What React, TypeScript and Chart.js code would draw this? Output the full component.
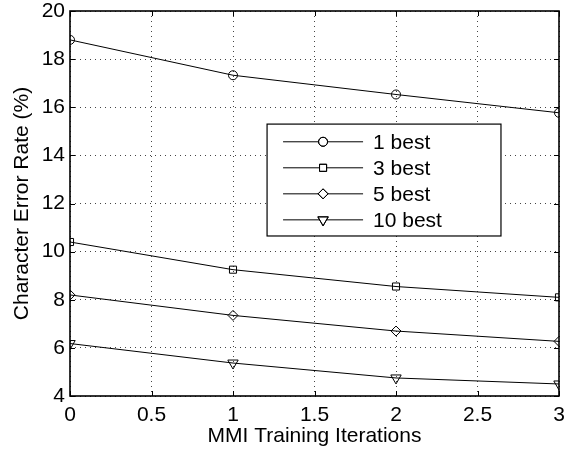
import React, { useEffect, useRef } from "react";
import { Chart, registerables } from "chart.js";
import { drawPoint } from "chart.js/helpers";

Chart.register(...registerables);

const iterations = [0, 1, 2, 3];
const seriesLabels = ["1 best", "3 best", "5 best", "10 best"];
const best1 = [18.8, 17.33, 16.53, 15.77];
const best3 = [10.4, 9.25, 8.55, 8.1];
const best5 = [8.2, 7.35, 6.7, 6.27];
const best10 = [6.18, 5.37, 4.75, 4.5];
const xTicks = [0, 0.5, 1, 1.5, 2, 2.5, 3];
const yTicks = [4, 6, 8, 10, 12, 14, 16, 18, 20];

const FONT = "'Liberation Sans', Arial, Helvetica, sans-serif";
const FS = 21;

const markerStyles = [
  { pointStyle: "circle", pointRadius: 4.5, pointRotation: 0 },
  { pointStyle: "rect", pointRadius: 5, pointRotation: 0 },
  { pointStyle: "rectRot", pointRadius: 5, pointRotation: 0 },
  { pointStyle: "triangle", pointRadius: 6, pointRotation: 180 },
];

const framePlugin = {
  id: "frame",
  afterDatasetsDraw(chart: any) {
    const { ctx, chartArea } = chart;
    const { left, right, top, bottom } = chartArea;
    const xs = chart.scales.x;
    const ys = chart.scales.y;
    ctx.save();
    ctx.strokeStyle = "#000";
    ctx.lineWidth = 1;
    const tl = 5;
    ctx.beginPath();
    xTicks.forEach((v) => {
      const px = Math.round(xs.getPixelForValue(v)) + 0.5;
      ctx.moveTo(px, bottom);
      ctx.lineTo(px, bottom - tl);
      ctx.moveTo(px, top);
      ctx.lineTo(px, top + tl);
    });
    yTicks.forEach((v) => {
      const py = Math.round(ys.getPixelForValue(v)) + 0.5;
      ctx.moveTo(left, py);
      ctx.lineTo(left + tl, py);
      ctx.moveTo(right, py);
      ctx.lineTo(right - tl, py);
    });
    ctx.stroke();
    ctx.lineWidth = 1.6;
    ctx.strokeRect(left, top, right - left, bottom - top);
    ctx.restore();
  },
};

const legendPlugin = {
  id: "boxLegend",
  afterDraw(chart: any) {
    const { ctx } = chart;
    const xs = chart.scales.x;
    const ys = chart.scales.y;
    const bx0 = xs.getPixelForValue(1.209);
    const bx1 = xs.getPixelForValue(2.644);
    const by0 = ys.getPixelForValue(15.3);
    const by1 = ys.getPixelForValue(10.65);
    ctx.save();
    ctx.fillStyle = "#fff";
    ctx.fillRect(bx0, by0, bx1 - bx0, by1 - by0);
    ctx.strokeStyle = "#000";
    ctx.lineWidth = 1.2;
    ctx.strokeRect(bx0, by0, bx1 - bx0, by1 - by0);
    const rowH = (by1 - by0) / 4.3;
    chart.data.datasets.forEach((ds: any, i: number) => {
      const y = by0 + rowH * 0.68 + rowH * i;
      const lx0 = bx0 + 16;
      const lx1 = bx0 + 96;
      ctx.strokeStyle = "#000";
      ctx.lineWidth = 1;
      ctx.beginPath();
      ctx.moveTo(lx0, y);
      ctx.lineTo(lx1, y);
      ctx.stroke();
      ctx.fillStyle = "#fff";
      drawPoint(
        ctx,
        {
          pointStyle: ds.pointStyle,
          radius: ds.pointRadius,
          rotation: ds.pointRotation,
          borderWidth: 1,
        },
        (lx0 + lx1) / 2,
        y
      );
      ctx.stroke();
      ctx.fillStyle = "#000";
      ctx.font = `${FS}px ${FONT}`;
      ctx.textBaseline = "middle";
      ctx.textAlign = "left";
      ctx.fillText(ds.label, bx0 + 106, y + 1);
    });
    ctx.restore();
  },
};

export default function App() {
  const ref = useRef<HTMLCanvasElement>(null);
  useEffect(() => {
    document.body.style.margin = "0";
    const seriesValues = [best1, best3, best5, best10];
    const chart = new Chart(ref.current as HTMLCanvasElement, {
      type: "line",
      data: {
        labels: iterations,
        datasets: seriesValues.map((vals, i) => ({
          label: seriesLabels[i],
          data: iterations.map((x, j) => ({ x, y: vals[j] })),
          borderColor: "#000",
          borderWidth: 1,
          backgroundColor: "rgba(0,0,0,0)",
          pointBackgroundColor: "rgba(0,0,0,0)",
          pointBorderColor: "#000",
          pointBorderWidth: 1,
          ...markerStyles[i],
        })),
      },
      options: {
        animation: false,
        responsive: false,
        devicePixelRatio: 1,
        layout: { padding: { left: 0, top: 11, right: 12, bottom: 0 } },
        plugins: { legend: { display: false }, tooltip: { enabled: false } },
        scales: {
          x: {
            type: "linear",
            min: 0,
            max: 3,
            afterBuildTicks: (s: any) => {
              s.ticks = xTicks.map((v) => ({ value: v }));
            },
            afterFit: (s: any) => {
              s.height = 54;
              s.paddingLeft = 0;
              s.paddingRight = 0;
            },
            ticks: {
              color: "#000",
              font: { family: FONT, size: FS },
              padding: 7,
              maxRotation: 0,
              autoSkip: false,
              callback: (v: any) => String(v),
            },
            grid: {
              color: "#444",
              lineWidth: 1,
              drawTicks: false,
            },
            border: { display: false, dash: [1, 4] },
            title: {
              display: true,
              text: "MMI Training Iterations",
              color: "#000",
              font: { family: FONT, size: FS },
              padding: { top: 0, bottom: 1 },
            },
          },
          y: {
            min: 4,
            max: 20,
            afterBuildTicks: (s: any) => {
              s.ticks = yTicks.map((v) => ({ value: v }));
            },
            afterFit: (s: any) => {
              s.width = 70;
              s.paddingTop = 0;
              s.paddingBottom = 0;
            },
            ticks: {
              color: "#000",
              font: { family: FONT, size: FS },
              padding: 5,
              autoSkip: false,
              callback: (v: any) => String(v),
            },
            grid: {
              color: "#444",
              lineWidth: 1,
              drawTicks: false,
            },
            border: { display: false, dash: [1, 4] },
            title: {
              display: true,
              text: "Character Error Rate (%)",
              color: "#000",
              font: { family: FONT, size: FS },
              padding: { top: 10, bottom: 0 },
            },
          },
        },
      } as any,
      plugins: [framePlugin, legendPlugin],
    });
    return () => chart.destroy();
  }, []);
  return <canvas ref={ref} width={571} height={450} style={{ display: "block" }} />;
}
